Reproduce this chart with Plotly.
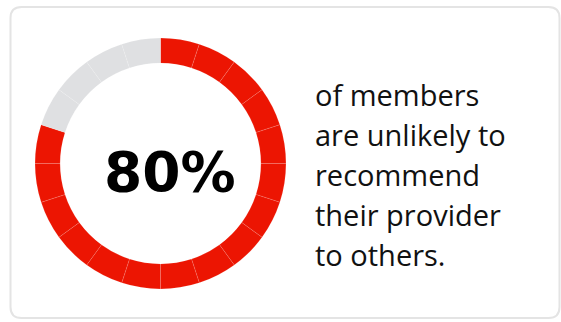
import plotly.graph_objects as go

# Share of members unlikely to recommend their provider, drawn as 20 equal ring segments
share_pct = 80
n_segments = 20
segment_labels = [f"s{i}" for i in range(n_segments)]
segment_values = [100 / n_segments] * n_segments
n_filled = round(share_pct / 100 * n_segments)

RED = "#EC1502"
GREY = "#DFE0E2"
segment_colors = [RED] * n_filled + [GREY] * (n_segments - n_filled)

caption_lines = ["of members", "are unlikely to", "recommend", "their provider", "to others."]

W, H = 561, 322

fig = go.Figure()
fig.add_trace(go.Pie(
    labels=segment_labels,
    values=segment_values,
    sort=False,
    direction="clockwise",
    rotation=0,
    hole=0.8,
    marker=dict(colors=segment_colors, line=dict(color="rgba(255,255,255,0.18)", width=0.7)),
    textinfo="none",
    hoverinfo="skip",
    showlegend=False,
    domain=dict(x=[35 / W, 286 / W], y=[33 / H, 284 / H]),
))

# Big percentage in the middle of the ring
fig.add_annotation(
    x=170 / W, y=1 - 172 / H, xref="paper", yref="paper",
    text=f"<b>{share_pct}%</b>", showarrow=False,
    font=dict(family="DejaVu Sans", size=55, color="#000000"),
    xanchor="center", yanchor="middle",
)

# Caption to the right, one annotation per line for a looser line height
line_top = 94
line_step = 40
for i, line in enumerate(caption_lines):
    fig.add_annotation(
        x=313 / W, y=1 - (line_top + i * line_step) / H, xref="paper", yref="paper",
        text=line, showarrow=False,
        font=dict(family="Open Sans", size=29, color="#111111"),
        xanchor="left", yanchor="middle",
    )

# Rounded card outline
x0, y0, x1, y1, r = 10.5, 7, 559.5, 318, 11
px = lambda v: v / W
py = lambda v: 1 - v / H
path = (
    f"M {px(x0 + r)} {py(y0)} L {px(x1 - r)} {py(y0)} "
    f"Q {px(x1)} {py(y0)} {px(x1)} {py(y0 + r)} "
    f"L {px(x1)} {py(y1 - r)} Q {px(x1)} {py(y1)} {px(x1 - r)} {py(y1)} "
    f"L {px(x0 + r)} {py(y1)} Q {px(x0)} {py(y1)} {px(x0)} {py(y1 - r)} "
    f"L {px(x0)} {py(y0 + r)} Q {px(x0)} {py(y0)} {px(x0 + r)} {py(y0)} Z"
)
fig.add_shape(type="path", path=path, xref="paper", yref="paper",
              line=dict(color="#E4E4E4", width=2), fillcolor="rgba(0,0,0,0)", layer="below")

fig.update_layout(
    width=W, height=H,
    margin=dict(l=0, r=0, t=0, b=0),
    paper_bgcolor="white", plot_bgcolor="white",
)

fig.write_html("out.html", config={"displayModeBar": False})
